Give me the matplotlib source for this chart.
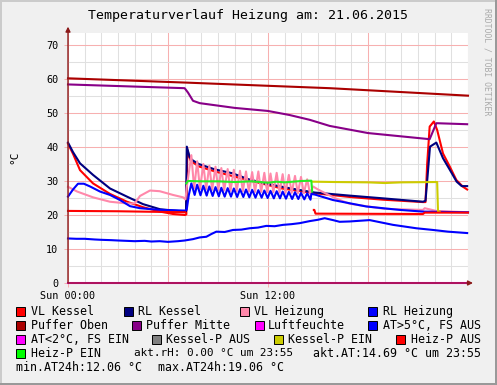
import numpy as np
import matplotlib
matplotlib.use("Agg")
import matplotlib.pyplot as plt
from matplotlib.patches import Rectangle

W, H = 497, 385
MONO = "DejaVu Sans Mono"

# --- data (hours since Sun 00:00, degrees C) ---
vlk_t = [0, 0.3, 0.72, 1.5, 2.52, 3.54, 4.5, 5.52, 6.3, 7.02, 7.1, 7.16, 7.35, 7.84, 8.82, 10.84,
         12.84, 14.82, 16.9, 18.9, 21.3, 21.45, 21.55, 21.7, 21.95, 22.15, 22.5, 22.9, 23.3, 23.7, 23.95]
vlk_v = [41.0, 38.0, 33.2, 29.3, 26.2, 23.9, 22.3, 21.0, 20.3, 20.0, 20.2, 39.1, 36.0, 34.3, 32.8, 30.2,
         27.8, 26.4, 25.3, 24.5, 23.8, 23.8, 35.0, 46.0, 47.5, 45.0, 38.1, 34.3, 30.3, 28.3, 27.5]

rlk_t = [0, 0.3, 0.72, 1.5, 2.52, 3.54, 4.5, 5.52, 7.0, 7.08, 7.13, 7.3, 7.44, 7.84, 8.82, 9.84, 10.84,
         11.82, 12.84, 13.84, 14.82, 16.9, 18.9, 21.3, 21.45, 21.55, 21.72, 22.1, 22.5, 22.92, 23.32,
         23.62, 23.95]
rlk_v = [41.3, 38.5, 35.2, 31.8, 27.8, 25.4, 23.2, 21.7, 21.0, 21.1, 40.1, 37.0, 36.2, 35.0, 33.4, 32.3,
         30.5, 29.3, 28.3, 27.4, 26.6, 25.7, 24.9, 23.9, 24.2, 30.0, 40.1, 41.3, 36.7, 33.2, 29.8, 28.5, 28.5]

# VL Heizung before and after the pump cycling
vlh_a_t = [0, 0.55, 1.5, 2.52, 3.54, 4.0, 4.32, 4.92, 5.5, 6.3, 6.9, 7.05, 7.12]
vlh_a_v = [28.3, 26.9, 25.2, 23.9, 23.4, 23.4, 25.6, 27.2, 27.0, 25.9, 25.2, 24.6, 28.0]
vlh_b_t = [14.7, 15.0, 16.0, 16.9, 19.0, 21.3, 21.4, 22.1, 24.0]
vlh_b_v = [28.4, 27.5, 25.0, 23.3, 21.8, 21.5, 22.0, 21.2, 20.8]

# RL Heizung before and after
rlh_a_t = [0, 0.3, 0.6, 0.95, 1.32, 1.92, 2.52, 3.12, 3.72, 4.32, 5.52, 7.02, 7.12, 7.25]
rlh_a_v = [25.4, 27.5, 29.2, 29.2, 28.4, 26.9, 25.9, 24.4, 22.6, 22.0, 21.5, 21.3, 21.5, 25.9]
rlh_b_t = [14.6, 14.82, 15.9, 17.9, 19.9, 21.3, 24.0]
rlh_b_v = [26.2, 26.0, 24.4, 22.5, 21.5, 21.0, 20.8]

# oscillation while the heating pump runs
osc_t = [7.40, 7.75, 8.12, 8.48, 8.85, 9.20, 9.58, 9.95, 10.32, 10.68, 11.05, 11.42, 11.78, 12.15,
         12.52, 12.88, 13.25, 13.62, 13.98, 14.35]
rlh_peak = [29.3, 28.9, 28.6, 28.4, 28.2, 28.0, 27.9, 27.8, 27.6, 27.5, 27.4, 27.3, 27.2, 27.1,
            27.0, 26.9, 26.8, 26.7, 26.5, 26.4]
rlh_low = [25.9, 25.8, 25.7, 25.6, 25.5, 25.4, 25.4, 25.3, 25.3, 25.2, 25.1, 25.1, 25.0, 24.9,
           24.9, 24.8, 24.7, 24.7, 24.6, 24.5]
vlh_peak = [37.6, 35.8, 35.0, 34.5, 34.2, 33.8, 33.5, 33.3, 33.0, 32.8, 32.6, 32.8, 32.4, 32.2,
            32.4, 32.0, 31.8, 31.5, 31.2, 30.5]
vlh_low = [27.8, 27.6, 27.5, 27.4, 27.3, 27.2, 27.1, 27.0, 27.0, 26.9, 26.8, 26.8, 26.7, 26.7,
           26.6, 26.5, 26.5, 26.4, 26.4, 26.3]

po_t = [0, 7.3, 12, 15.7, 24]
po_v = [60.2, 58.9, 58.0, 57.3, 55.1]

pm_t = [0, 7.0, 7.2, 7.5, 7.9, 10.0, 12.0, 13.3, 14.5, 15.7, 18.0, 21.7, 22.1, 23.95]
pm_v = [58.4, 57.3, 56.0, 53.6, 52.9, 51.5, 50.6, 49.4, 48.0, 46.2, 44.1, 42.3, 47.0, 46.7]

lf_t = [0, 24]
lf_v = [0, 0]

at_t = [0, 0.5, 1.0, 1.6, 2.0, 2.6, 3.0, 3.5, 4.0, 4.6, 5.0, 5.5, 6.0, 6.6, 7.0, 7.5, 7.9, 8.3, 8.6,
        8.9, 9.4, 9.9, 10.4, 10.9, 11.4, 11.9, 12.4, 12.9, 13.4, 13.9, 14.5, 15.0, 15.4, 15.9, 16.3,
        16.9, 17.5, 18.1, 18.6, 19.5, 20.2, 20.9, 21.9, 22.8, 23.95]
at_v = [13.1, 13.0, 13.0, 12.8, 12.7, 12.6, 12.5, 12.4, 12.3, 12.4, 12.2, 12.3, 12.1, 12.3, 12.5, 12.9,
        13.4, 13.6, 14.4, 15.1, 15.0, 15.6, 15.7, 16.1, 16.3, 16.8, 16.7, 17.1, 17.3, 17.6, 18.2, 18.6,
        19.06, 18.5, 18.0, 18.1, 18.3, 18.5, 18.0, 17.1, 16.6, 16.1, 15.6, 15.1, 14.69]

hpa_a_t = [0, 3.0, 7.02]
hpa_a_v = [21.2, 21.1, 20.8]
hpa_b_t = [14.75, 14.78, 14.85, 21.3, 21.4, 24.0]
hpa_b_v = [21.5, 21.5, 20.4, 20.3, 20.7, 20.7]

hpe_t = [7.1, 7.2, 8.0, 9.0, 10.0, 11.0, 12.0, 12.5, 13.0, 13.5, 14.0, 14.6, 14.65]
hpe_v = [29.3, 30.0, 29.9, 29.9, 29.7, 29.9, 29.5, 29.8, 29.6, 29.8, 30.0, 30.1, 26.9]

kpe_t = [14.65, 16.0, 18.0, 19.0, 20.0, 22.15, 22.2, 22.3]
kpe_v = [29.8, 29.7, 29.6, 29.4, 29.6, 29.7, 21.0, 21.0]

legend_rows = [
    [(16, 31, "#ff0000", "VL Kessel"), (124, 138.3, "#000080", "RL Kessel"),
     (240, 254, "#ff88aa", "VL Heizung"), (368.3, 382.7, "#0000ff", "RL Heizung")],
    [(16, 31, "#aa0000", "Puffer Oben"), (131.7, 145.7, "#880088", "Puffer Mitte"),
     (255, 267.3, "#ff00ff", "Luftfeuchte"), (368.3, 382.7, "#0000ff", "AT>5°C, FS AUS")],
    [(16, 31, "#ff00ff", "AT<2°C, FS EIN"), (151.7, 166, "#808080", "Kessel-P AUS"),
     (274, 288.3, "#cccc00", "Kessel-P EIN"), (396, 410.7, "#ff0000", "Heiz-P AUS")],
    [(16, 31, "#00ff00", "Heiz-P EIN")],
]
comments = [(134, 353.5, 7.9, "akt.rH: 0.00 °C um 23:55"), (312.7, 353.5, 8.4, "akt.AT:14.69 °C um 23:55"),
            (16, 367.5, 8.4, "min.AT24h:12.06 °C"), (158.3, 367.5, 8.4, "max.AT24h:19.06 °C")]


def zigzag(times, peaks, lows, dt):
    t, v = [], []
    for ti, p, lo in zip(times, peaks, lows):
        t += [ti, ti + dt]
        v += [p, lo]
    return t, v


def fx(x):
    return x / W


def fy(y):
    return 1 - y / H


fig = plt.figure(figsize=(W / 100, H / 100), dpi=100, facecolor="#f0f0f0")

# frame shading
fig.add_artist(Rectangle((0, 0), 2 / W, 1, transform=fig.transFigure, color="#cbcbcb", lw=0))
fig.add_artist(Rectangle((0, 1 - 2 / H), 1, 2 / H, transform=fig.transFigure, color="#cbcbcb", lw=0))
fig.add_artist(Rectangle((1 - 2 / W, 0), 2 / W, 1, transform=fig.transFigure, color="#999999", lw=0))
fig.add_artist(Rectangle((0, 0), 1, 2 / H, transform=fig.transFigure, color="#999999", lw=0))

ax = fig.add_axes([fx(68), fy(283), 400 / W, 250.5 / H])
ax.set_facecolor("white")
ax.set_xlim(0, 24)
ax.set_ylim(0, 250.5 / 3.4)
for s in ax.spines.values():
    s.set_visible(False)

for h in range(25):
    ax.axvline(h, color="#f7b0b0" if h % 6 == 0 else "#e0e0e0", lw=0.75, zorder=0)
for v in range(5, 75, 5):
    ax.axhline(v, color="#f7b0b0" if v % 10 == 0 else "#e0e0e0", lw=0.75, zorder=0)

ax.set_yticks(range(0, 71, 10))
ax.set_yticklabels([str(v) for v in range(0, 71, 10)], family=MONO, fontsize=7.3)
ax.set_xticks([0, 12])
ax.set_xticklabels(["Sun 00:00", "Sun 12:00"], family=MONO, fontsize=7.3)
ax.tick_params(axis="y", length=3, width=0.7, color="#f7b0b0", pad=4)
ax.tick_params(axis="x", length=3, width=0.7, color="#f7b0b0", pad=3)
ax.set_ylabel("°C", family=MONO, fontsize=8, labelpad=19)

lw = 1.5
kw = dict(lw=lw, solid_joinstyle="round", clip_on=False)
ax.plot(vlk_t, vlk_v, color="#ff0000", **kw)
ax.plot(rlk_t, rlk_v, color="#000080", **kw)
zt, zv = zigzag(osc_t, vlh_peak, vlh_low, 0.17)
ax.plot(vlh_a_t + zt + vlh_b_t, vlh_a_v + zv + vlh_b_v, color="#ff88aa", **kw)
zt, zv = zigzag(osc_t, rlh_peak, rlh_low, 0.2)
ax.plot(rlh_a_t + zt + rlh_b_t, rlh_a_v + zv + rlh_b_v, color="#0000ff", **kw)
ax.plot(po_t, po_v, color="#aa0000", **kw)
ax.plot(pm_t, pm_v, color="#880088", **kw)
ax.plot(lf_t, lf_v, color="#ff00ff", **kw)
ax.plot(at_t, at_v, color="#0000ff", **kw)
ax.plot(kpe_t, kpe_v, color="#cccc00", **kw)
ax.plot(hpa_a_t, hpa_a_v, color="#ff0000", **kw)
ax.plot(hpa_b_t, hpa_b_v, color="#ff0000", **kw)
ax.plot(hpe_t, hpe_v, color="#22ee22", **kw)

# axes with arrows
axis_col = "#8b1a1a"
ax.annotate("", xy=(0, 75.4), xytext=(0, 0), annotation_clip=False,
            arrowprops=dict(arrowstyle="-|>", color=axis_col, lw=1, mutation_scale=7, shrinkA=0, shrinkB=0))
ax.annotate("", xy=(24.3, 0), xytext=(0, 0), annotation_clip=False,
            arrowprops=dict(arrowstyle="-|>", color=axis_col, lw=1, mutation_scale=7, shrinkA=0, shrinkB=0))

fig.text(0.5, fy(16), "Temperaturverlauf Heizung am: 21.06.2015", ha="center", va="center",
         family=MONO, fontsize=9.5)
fig.text(fx(487), fy(62), "RRDTOOL / TOBI OETIKER", rotation=270, ha="center", va="center",
         family=MONO, fontsize=5.9, color="#aaaaaa")

row_y = [311.5, 325.5, 339.5, 353.5]
for ry, row in zip(row_y, legend_rows):
    for sx, tx, col, label in row:
        fig.add_artist(Rectangle((fx(sx), fy(ry + 4.5)), 9 / W, 9 / H, transform=fig.transFigure,
                                 facecolor=col, edgecolor="black", lw=0.7))
        fig.text(fx(tx), fy(ry), label, ha="left", va="center", family=MONO, fontsize=8.4)
for cx, cy, fs, label in comments:
    fig.text(fx(cx), fy(cy), label, ha="left", va="center", family=MONO, fontsize=fs)

fig.savefig("out.png", dpi=100, facecolor=fig.get_facecolor())
